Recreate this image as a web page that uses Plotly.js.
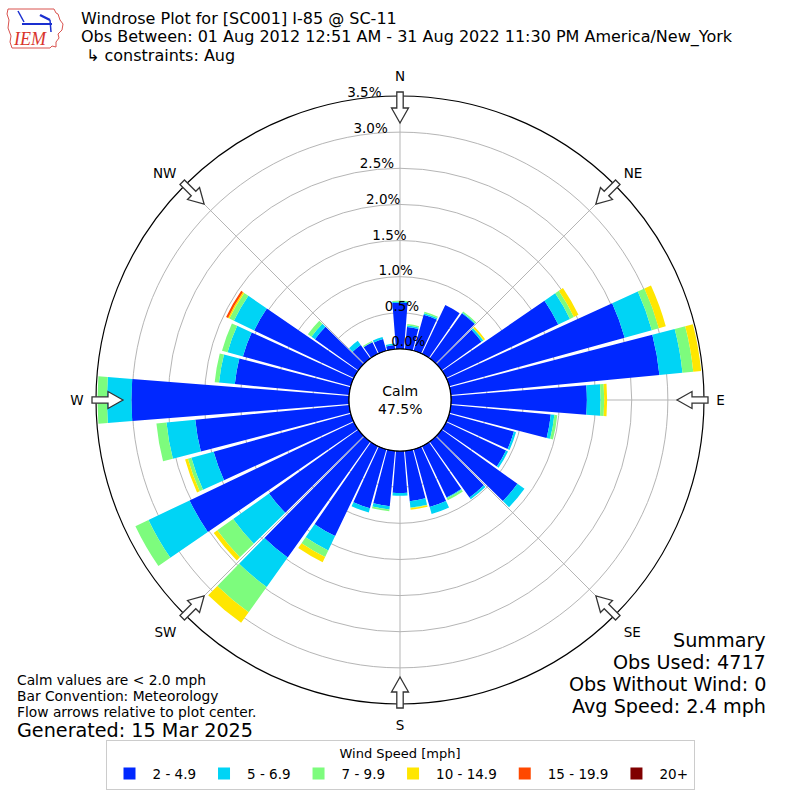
<!DOCTYPE html>
<html>
<head>
<meta charset="utf-8">
<script src="https://cdn.plot.ly/plotly-3.0.1.min.js"></script>
<style>
  html, body { margin: 0; padding: 0; background: #fff; }
  #chart { width: 800px; height: 800px; }
</style>
</head>
<body>
<div id="chart"></div>
<script>
// ---- data ----
const directions = [0,10,20,30,40,50,60,70,80,90,100,110,120,130,140,150,160,170,
                    180,190,200,210,220,230,240,250,260,270,280,290,300,310,320,330,340,350];
const speedBins = ['2 - 4.9', '5 - 6.9', '7 - 9.9', '10 - 14.9', '15 - 19.9', '20+'];
const binColors = ['#0028ff', '#00d4f5', '#7dfc7d', '#ffe600', '#ff4800', '#800000'];

// percent of observations per direction for each speed bin (stacked)
const pct2to5 = [0.64,0.31,0.52,0.75,0.77,0.68,1.72,2.52,2.90,1.88,1.39,0.93,0.92,1.29,0.95,0.79,0.83,0.70,
                 0.58,0.77,0.85,1.38,1.97,1.52,2.52,1.97,2.14,3.01,1.59,1.55,1.53,0.74,0.23,0.18,0.17,0.06];
const pct5to7 = [0.015,0.02,0.02,0,0.01,0.03,0.18,0.39,0.32,0.19,0.05,0.03,0.03,0.12,0.03,0.01,0.10,0.09,
                 0.04,0.045,0.06,0.22,0.50,0.61,0.63,0.32,0.40,0.34,0.22,0.22,0.31,0.06,0.07,0.005,0.03,0.02];
const pct7to10 = [0.015,0.02,0.02,0,0.02,0.005,0.06,0.10,0.15,0.05,0.04,0,0,0,0,0.03,0,0.01,
                  0,0.025,0,0.10,0.43,0.27,0.20,0.05,0.14,0.13,0.06,0.08,0.07,0.06,0,0.015,0,0];
const pct10to15 = [0,0,0,0,0,0.025,0.07,0.10,0.11,0.04,0,0,0,0,0,0,0,0.02,
                   0,0,0,0.08,0.18,0.06,0,0.04,0,0,0,0,0.02,0,0,0,0,0];
const pct15to20 = [0,0,0,0,0,0,0,0,0,0,0,0,0,0,0,0,0,0,
                   0,0,0,0,0,0,0,0,0,0,0,0,0.03,0,0,0,0,0];
const pct20plus = [0,0,0,0,0,0,0,0,0,0,0,0,0,0,0,0,0,0,
                   0,0,0,0,0,0,0,0,0,0,0,0,0,0,0,0,0,0];

const radialTicks = [0, 0.5, 1.0, 1.5, 2.0, 2.5, 3.0, 3.5];
const radialTickLabels = ['0.0%', '0.5%', '1.0%', '1.5%', '2.0%', '2.5%', '3.0%', '3.5%'];
const radialLabelAngle = 350;
const compassAngles = [0, 45, 90, 135, 180, 225, 270, 315];
const compassLabels = ['N', 'NE', 'E', 'SE', 'S', 'SW', 'W', 'NW'];
const calmPct = '47.5%';

const seriesValues = [pct2to5, pct5to7, pct7to10, pct10to15, pct15to20, pct20plus];

// ---- traces ----
const traces = seriesValues.map((vals, i) => ({
  type: 'barpolar',
  name: speedBins[i],
  r: vals,
  theta: directions,
  width: 9,
  marker: { color: binColors[i], line: { width: 0 } },
  hoverinfo: 'skip'
}));

// black circle around the calm area
const ringTheta = [];
for (let a = 0; a <= 360; a += 2) ringTheta.push(a);
traces.push({
  type: 'scatterpolar', mode: 'lines', showlegend: false, hoverinfo: 'skip',
  r: ringTheta.map(() => 0), theta: ringTheta, cliponaxis: false,
  line: { color: '#000', width: 1.2 }
});

// ---- decorations: flow arrows (pixel geometry converted to paper) ----
const W = 800, H = 800, CX = 400, CY = 400;
function P(x, y) { return (x / W).toFixed(5) + ',' + (1 - y / H).toFixed(5); }
function arrowPath(deg) {
  const a = deg * Math.PI / 180;
  const ux = Math.sin(a), uy = -Math.cos(a);   // outward direction (screen)
  const px = Math.cos(a), py = Math.sin(a);     // perpendicular
  const pt = (r, w) => P(CX + ux * r + px * w, CY + uy * r + py * w);
  const tip = 277, base = 292, tail = 308, hw = 8.5, sw = 3.2;
  return 'M' + pt(tip, 0) + ' L' + pt(base, hw) + ' L' + pt(base, sw) + ' L' + pt(tail, sw) +
         ' L' + pt(tail, -sw) + ' L' + pt(base, -sw) + ' L' + pt(base, -hw) + ' Z';
}
const shapes = compassAngles.map(d => ({
  type: 'path', xref: 'paper', yref: 'paper', path: arrowPath(d),
  fillcolor: '#ffffff', line: { color: '#333333', width: 1.3 }, layer: 'above'
}));

// logo approximation (IEM)
function poly(pts) { return 'M' + pts.map(p => P(p[0], p[1])).join(' L') + ' Z'; }
shapes.push({
  type: 'path', xref: 'paper', yref: 'paper', layer: 'above',
  path: poly([[8,9],[54,9],[56,13],[58,14],[60,20],[63,24],[62,30],[58,34],[59,38],[56,42],[56,47],[52,46],[50,48],[12,48],[10,42],[11,36],[8,28],[9,20],[7,14]]),
  fillcolor: 'rgba(0,0,0,0)', line: { color: '#d9534f', width: 1 }
});
shapes.push({ type: 'line', xref: 'paper', yref: 'paper', x0: 22/W, y0: 1-24/H, x1: 52/W, y1: 1-24/H, line: { color: '#1a2fd0', width: 2 } });
shapes.push({ type: 'line', xref: 'paper', yref: 'paper', x0: 18/W, y0: 1-11/H, x1: 24/W, y1: 1-22/H, line: { color: '#1a2fd0', width: 1.5 } });
shapes.push({ type: 'line', xref: 'paper', yref: 'paper', x0: 40/W, y0: 1-15/H, x1: 50/W, y1: 1-20/H, line: { color: '#1a2fd0', width: 2.5 } });
shapes.push({ type: 'line', xref: 'paper', yref: 'paper', x0: 50/W, y0: 1-20/H, x1: 51/W, y1: 1-32/H, line: { color: '#1a2fd0', width: 1.5 } });

const F = 'DejaVu Sans';

// radial tick labels drawn along a line just west of north (on top of everything)
traces.push({
  type: 'scatterpolar', mode: 'text', showlegend: false, hoverinfo: 'skip',
  r: radialTicks, theta: radialTicks.map(() => radialLabelAngle), text: radialTickLabels,
  textposition: 'top right', cliponaxis: false,
  textfont: { family: F, size: 13.5, color: '#000' }
});

function txt(text, x, y, size, xanchor, extra) {
  return Object.assign({
    text: text, x: x / W, y: 1 - y / H, xref: 'paper', yref: 'paper',
    xanchor: xanchor || 'left', yanchor: 'middle', showarrow: false,
    font: { family: F, size: size, color: '#000' }
  }, extra || {});
}
const annotations = [
  txt('Windrose Plot for [SC001] I-85 @ SC-11', 79, 18.5, 16),
  txt('Obs Between: 01 Aug 2012 12:51 AM - 31 Aug 2022 11:30 PM America/New_York', 79, 37, 16),
  txt('\u21b3 constraints: Aug', 84, 55.5, 16),
  txt('Calm<br>' + calmPct, 400, 400, 14, 'center', { align: 'center' }),
  txt('Calm values are < 2.0 mph', 15, 680, 13.8),
  txt('Bar Convention: Meteorology', 15, 696, 13.8),
  txt('Flow arrows relative to plot center.', 15, 712, 13.8),
  txt('Generated: 15 Mar 2025', 15, 730, 19.2),
  txt('Summary', 768, 640, 19.2, 'right'),
  txt('Obs Used: 4717', 768, 662, 19.2, 'right'),
  txt('Obs Without Wind: 0', 768, 684, 19.2, 'right'),
  txt('Avg Speed: 2.4 mph', 768, 706, 19.2, 'right'),
  txt('<i>IEM</i>', 30, 39, 17, 'center', { font: { family: 'Liberation Serif', size: 18, color: '#d9342b' } })
];

const layout = {
  width: 800, height: 800,
  margin: { l: 0, r: 0, t: 0, b: 0 },
  paper_bgcolor: '#ffffff',
  font: { family: F, size: 13, color: '#000' },
  showlegend: true,
  legend: {
    orientation: 'h', x: 0.5, xanchor: 'center', y: 0.012, yanchor: 'bottom',
    bordercolor: '#cccccc', borderwidth: 1, bgcolor: '#ffffff',
    font: { family: F, size: 13.5 },
    title: { text: 'Wind Speed [mph]', side: 'top center', font: { family: F, size: 13 } },
    itemwidth: 36, traceorder: 'normal'
  },
  polar: {
    domain: { x: [0.12, 0.88], y: [0.12, 0.88] },
    hole: 51 / 304,
    bgcolor: '#ffffff',
    barmode: 'stack',
    bargap: 0,
    radialaxis: {
      range: [0, 3.5], tickvals: radialTicks, showticklabels: false,
      showline: false, ticks: '', gridcolor: '#b5b5b5', gridwidth: 1, angle: 90
    },
    angularaxis: {
      rotation: 90, direction: 'clockwise', thetaunit: 'degrees',
      tickmode: 'array', tickvals: compassAngles, ticktext: compassLabels,
      ticks: 'outside', ticklen: 9, tickcolor: 'rgba(0,0,0,0)',
      showline: true, linecolor: '#000', linewidth: 1.2,
      gridcolor: '#b5b5b5', gridwidth: 1,
      tickfont: { family: F, size: 13.5, color: '#000' }
    }
  },
  shapes: shapes,
  annotations: annotations
};

Plotly.newPlot('chart', traces, layout, { displayModeBar: false, staticPlot: true });
</script>
</body>
</html>
